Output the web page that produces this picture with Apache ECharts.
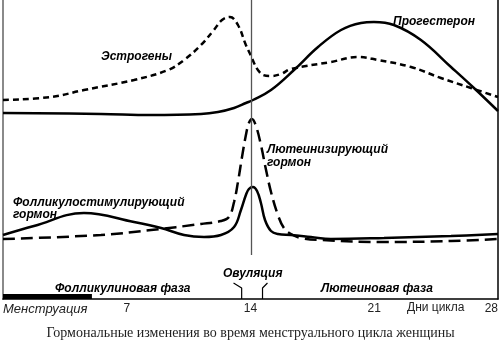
<!DOCTYPE html>
<html><head><meta charset="utf-8">
<script src="https://cdn.jsdelivr.net/npm/echarts@6/dist/echarts.min.js"></script>
<style>html,body{margin:0;padding:0;background:#fff}#c{width:501px;height:344px}</style>
</head><body><div id="c"></div>
<script>
// x = day of cycle, y = relative level (arbitrary units, 0..299)
const tickLabels = {0:'Менструация', 7:'7', 14:'14', 21:'21', 28:'28'};
const estrogen = [[0,199],[2.71,202],[4.58,209],[7.41,219],[9.33,229],[10.24,239],[11.2,254],[11.93,269],[12.39,279],[12.84,282],[13.29,274],[13.74,254],[14.03,243],[14.2,236],[14.42,229],[14.71,224],[15.16,223],[15.72,225],[16.29,230],[18.55,237],[20.08,242],[21.21,239],[23.08,232],[24.77,221],[26.47,211],[28,202]];
const progesterone = [[0,186],[5.54,185],[8.37,184],[11.2,185],[12.16,187],[13.07,191],[13.74,196],[14.14,199],[15.16,209],[16.46,229],[17.82,252],[19.12,269],[20.25,276],[20.98,277],[22.11,274],[23.64,259],[25.34,232],[26.64,211],[28,188]];
const fsh = [[0,64],[1.75,73],[4.58,86],[7.41,77],[8.94,71],[10.24,64],[11.37,62],[12.33,64],[13.07,72],[13.46,89],[13.74,104],[13.91,110],[14.14,112],[14.37,108],[14.59,96],[14.82,79],[15.16,68],[15.55,65],[16.29,64],[17.42,62],[18.55,60],[21.55,61],[25.34,63],[28,65]];
const lh = [[0,60],[5.54,64],[8.37,69],[11.2,75],[12.33,78],[12.78,82],[13.07,97],[13.29,117],[13.52,142],[13.74,164],[13.91,176],[14.08,180],[14.31,173],[14.59,154],[14.88,129],[15.16,107],[15.55,84],[15.89,71],[16.29,65],[16.86,61],[17.99,59],[21.55,57],[25.34,58],[28,60]];
const ovulationDay = 14.03;
const menstruationDays = [0, 5.03];
const bracketLeft = [[13.04,16],[13.5,11],[13.5,0]];
const bracketRight = [[14.96,16],[14.68,11],[14.68,0]];
const yTop = 299, ovLineBottom = 44;

const chart = echarts.init(document.getElementById('c'), null, {renderer:'canvas'});
function T(text, x, yc){ return {type:'text', left:x, top:yc-4, style:{text:text, fill:'#000', font:'italic bold 12px "Liberation Sans"'}}; }
const solid = {color:'#000', width:2.5};
chart.setOption({
  animation:false,
  grid:{left:2, right:3, top:0, bottom:45},
  xAxis:{type:'value', min:0, max:28, interval:7,
    axisLine:{lineStyle:{color:'#000', width:1.5}}, axisTick:{show:false}, splitLine:{show:false},
    axisLabel:{margin:4, color:'#222', fontFamily:'Liberation Sans', fontSize:12, alignMinLabel:'left', alignMaxLabel:'right',
      formatter:v => v===0 ? '{m|'+tickLabels[0]+'}' : (tickLabels[v]||''),
      rich:{m:{fontStyle:'italic', fontFamily:'Liberation Sans', fontSize:13, color:'#222'}}}},
  yAxis:[{type:'value', min:0, max:yTop, show:true, axisLine:{show:true, lineStyle:{color:'#8a8a8a', width:2}}, axisTick:{show:false}, axisLabel:{show:false}, splitLine:{show:false}},
         {type:'value', min:0, max:yTop, position:'right', axisLine:{show:true, lineStyle:{color:'#000', width:1.5}}, axisTick:{show:false}, axisLabel:{show:false}, splitLine:{show:false}}],
  series:[
    {type:'line', data:estrogen, showSymbol:false, smooth:0.4, lineStyle:{color:'#000', width:2.5, type:[6,4]},
     markLine:{silent:true, symbol:'none', label:{show:false}, lineStyle:{color:'#555', width:1.3, type:'solid'},
       data:[[{coord:[ovulationDay,yTop]},{coord:[ovulationDay,ovLineBottom]}]]},
     markArea:{silent:true, itemStyle:{color:'#000'}, data:[[{coord:[menstruationDays[0],5]},{coord:[menstruationDays[1],0]}]]}},
    {type:'line', data:progesterone, showSymbol:false, smooth:0.4, lineStyle:solid},
    {type:'line', data:fsh, showSymbol:false, smooth:0.4, lineStyle:solid},
    {type:'line', data:lh, showSymbol:false, smooth:0.4, lineStyle:{color:'#000', width:2.5, type:[12,6]}},
    {type:'line', data:bracketLeft, showSymbol:false, lineStyle:{color:'#000', width:1.2}},
    {type:'line', data:bracketRight, showSymbol:false, lineStyle:{color:'#000', width:1.2}}
  ],
  graphic:[
    T('Эстрогены', 101, 55),
    T('Прогестерон', 393, 20),
    T('Лютеинизирующий', 267, 148),
    T('гормон', 267, 161),
    T('Фолликулостимулирующий', 13, 201),
    T('гормон', 13, 213),
    T('Фолликулиновая фаза', 55, 287),
    T('Лютеиновая фаза', 321, 287),
    T('Овуляция', 223, 272),
    {type:'text', left:407, top:302, style:{text:'Дни цикла', fill:'#222', font:'12px "Liberation Sans"'}},
    {type:'text', left:'center', top:326, style:{text:'Гормональные изменения во время менструального цикла женщины', fill:'#222', font:'14px "Liberation Serif"'}}
  ]
});
</script></body></html>
